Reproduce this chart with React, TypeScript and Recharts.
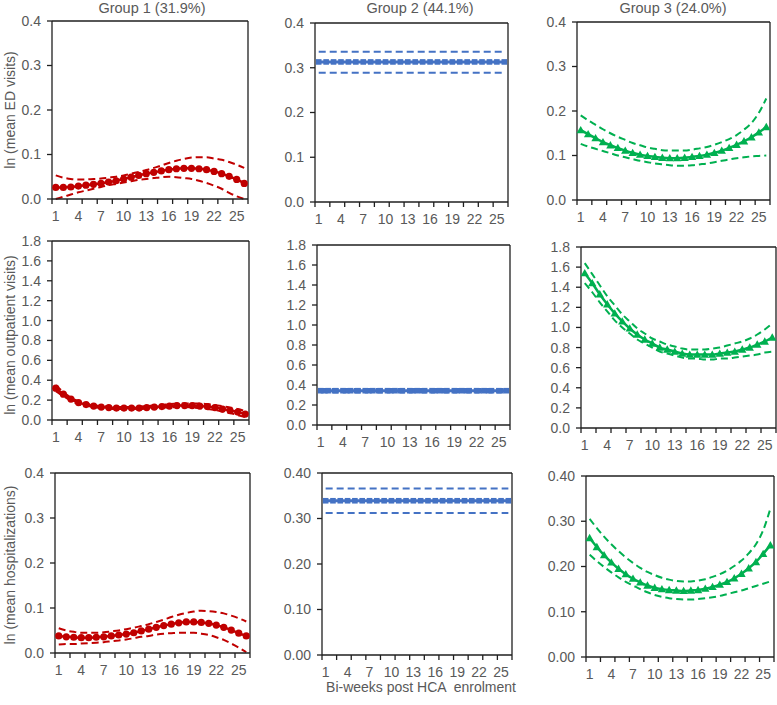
import React from "react";
import { LineChart, Line, XAxis, YAxis, ReferenceLine } from "recharts";

// ---------- categories & tick labels ----------
const WEEKS = [1, 2, 3, 4, 5, 6, 7, 8, 9, 10, 11, 12, 13, 14, 15, 16, 17, 18, 19, 20, 21, 22, 23, 24, 25, 26];
const X_LABEL_TICKS = [1, 4, 7, 10, 13, 16, 19, 22, 25];
const X_MARK_TICKS = [0.5, 2.5, 4.5, 6.5, 8.5, 10.5, 12.5, 14.5, 16.5, 18.5, 20.5, 22.5, 24.5, 26.5];
const GROUP_TITLES = ["Group 1 (31.9%)", "Group 2 (44.1%)", "Group 3 (24.0%)"];
const ROW_LABELS = ["ln (mean ED visits)", "ln (mean outpatient visits)", "ln (mean hospitalizations)"];
const X_TITLE = "Bi-weeks post HCA  enrolment";
const ED_TICKS = [0, 0.1, 0.2, 0.3, 0.4];
const OUT_TICKS = [0, 0.2, 0.4, 0.6, 0.8, 1.0, 1.2, 1.4, 1.6, 1.8];
const HOSP_TICKS = [0, 0.1, 0.2, 0.3, 0.4];

// ---------- ED visits ----------
const edG1Mean = [0.026, 0.026, 0.027, 0.029, 0.031, 0.033, 0.035, 0.038, 0.041, 0.045, 0.049, 0.053, 0.057, 0.060, 0.063, 0.066, 0.068, 0.069, 0.069, 0.068, 0.066, 0.062, 0.057, 0.051, 0.044, 0.035];
const edG1Upper = [0.053, 0.048, 0.045, 0.044, 0.044, 0.045, 0.046, 0.048, 0.050, 0.053, 0.057, 0.061, 0.065, 0.070, 0.075, 0.081, 0.086, 0.090, 0.093, 0.094, 0.094, 0.091, 0.088, 0.083, 0.077, 0.070];
const edG1Lower = [0.000, 0.005, 0.010, 0.015, 0.019, 0.023, 0.027, 0.031, 0.034, 0.037, 0.040, 0.043, 0.045, 0.047, 0.049, 0.050, 0.049, 0.047, 0.045, 0.041, 0.036, 0.030, 0.023, 0.014, 0.006, 0.000];
const edG2Mean = [0.313, 0.313, 0.313, 0.313, 0.313, 0.313, 0.313, 0.313, 0.313, 0.313, 0.313, 0.313, 0.313, 0.313, 0.313, 0.313, 0.313, 0.313, 0.313, 0.313, 0.313, 0.313, 0.313, 0.313, 0.313, 0.313];
const edG2Upper = [0.336, 0.336, 0.336, 0.336, 0.336, 0.336, 0.336, 0.336, 0.336, 0.336, 0.336, 0.336, 0.336, 0.336, 0.336, 0.336, 0.336, 0.336, 0.336, 0.336, 0.336, 0.336, 0.336, 0.336, 0.336, 0.336];
const edG2Lower = [0.289, 0.289, 0.289, 0.289, 0.289, 0.289, 0.289, 0.289, 0.289, 0.289, 0.289, 0.289, 0.289, 0.289, 0.289, 0.289, 0.289, 0.289, 0.289, 0.289, 0.289, 0.289, 0.289, 0.289, 0.289, 0.289];
const edG3Mean = [0.157, 0.148, 0.139, 0.130, 0.123, 0.117, 0.111, 0.106, 0.102, 0.099, 0.097, 0.095, 0.094, 0.094, 0.095, 0.097, 0.099, 0.102, 0.106, 0.111, 0.117, 0.124, 0.132, 0.141, 0.152, 0.164];
const edG3Upper = [0.190, 0.179, 0.169, 0.159, 0.150, 0.142, 0.135, 0.128, 0.123, 0.118, 0.115, 0.112, 0.111, 0.111, 0.111, 0.113, 0.116, 0.119, 0.124, 0.130, 0.137, 0.146, 0.158, 0.173, 0.196, 0.228];
const edG3Lower = [0.126, 0.120, 0.115, 0.110, 0.105, 0.100, 0.096, 0.092, 0.088, 0.085, 0.082, 0.080, 0.078, 0.077, 0.077, 0.078, 0.080, 0.082, 0.085, 0.088, 0.091, 0.094, 0.096, 0.098, 0.099, 0.100];

// ---------- outpatient visits ----------
const outG1Mean = [0.32, 0.26, 0.21, 0.175, 0.155, 0.14, 0.13, 0.125, 0.12, 0.12, 0.12, 0.12, 0.125, 0.13, 0.135, 0.14, 0.145, 0.145, 0.145, 0.14, 0.135, 0.125, 0.11, 0.095, 0.08, 0.06];
const outG1Upper = [0.35, 0.28, 0.225, 0.19, 0.165, 0.15, 0.14, 0.135, 0.13, 0.13, 0.13, 0.135, 0.14, 0.145, 0.15, 0.16, 0.165, 0.165, 0.165, 0.165, 0.16, 0.15, 0.14, 0.125, 0.11, 0.09];
const outG1Lower = [0.29, 0.24, 0.195, 0.16, 0.145, 0.13, 0.12, 0.115, 0.11, 0.11, 0.11, 0.11, 0.115, 0.12, 0.125, 0.125, 0.13, 0.13, 0.125, 0.12, 0.11, 0.10, 0.085, 0.07, 0.05, 0.03];
const outG2Mean = [0.343, 0.343, 0.343, 0.343, 0.343, 0.343, 0.343, 0.343, 0.343, 0.343, 0.343, 0.343, 0.343, 0.343, 0.343, 0.343, 0.343, 0.343, 0.343, 0.343, 0.343, 0.343, 0.343, 0.343, 0.343, 0.343];
const outG2Upper = [0.36, 0.36, 0.36, 0.36, 0.36, 0.36, 0.36, 0.36, 0.36, 0.36, 0.36, 0.36, 0.36, 0.36, 0.36, 0.36, 0.36, 0.36, 0.36, 0.36, 0.36, 0.36, 0.36, 0.36, 0.36, 0.36];
const outG2Lower = [0.326, 0.326, 0.326, 0.326, 0.326, 0.326, 0.326, 0.326, 0.326, 0.326, 0.326, 0.326, 0.326, 0.326, 0.326, 0.326, 0.326, 0.326, 0.326, 0.326, 0.326, 0.326, 0.326, 0.326, 0.326, 0.326];
const outG3Mean = [1.54, 1.44, 1.33, 1.23, 1.14, 1.06, 0.99, 0.93, 0.88, 0.84, 0.80, 0.78, 0.76, 0.74, 0.73, 0.73, 0.73, 0.73, 0.74, 0.75, 0.76, 0.78, 0.80, 0.83, 0.86, 0.90];
const outG3Upper = [1.64, 1.53, 1.42, 1.31, 1.22, 1.13, 1.06, 0.99, 0.94, 0.89, 0.86, 0.83, 0.81, 0.79, 0.78, 0.78, 0.78, 0.79, 0.80, 0.82, 0.84, 0.86, 0.89, 0.93, 0.98, 1.04];
const outG3Lower = [1.44, 1.35, 1.25, 1.16, 1.07, 1.00, 0.94, 0.88, 0.84, 0.80, 0.76, 0.74, 0.72, 0.70, 0.69, 0.69, 0.68, 0.68, 0.69, 0.69, 0.70, 0.71, 0.72, 0.73, 0.75, 0.76];

// ---------- hospitalizations ----------
const hospG1Mean = [0.038, 0.036, 0.035, 0.034, 0.034, 0.035, 0.036, 0.038, 0.040, 0.042, 0.045, 0.049, 0.053, 0.057, 0.061, 0.064, 0.067, 0.069, 0.069, 0.068, 0.066, 0.062, 0.057, 0.051, 0.044, 0.038];
const hospG1Upper = [0.055, 0.050, 0.047, 0.045, 0.045, 0.045, 0.046, 0.048, 0.050, 0.053, 0.056, 0.060, 0.064, 0.069, 0.074, 0.080, 0.085, 0.089, 0.092, 0.094, 0.093, 0.091, 0.088, 0.083, 0.077, 0.070];
const hospG1Lower = [0.019, 0.020, 0.020, 0.021, 0.022, 0.023, 0.024, 0.026, 0.028, 0.030, 0.033, 0.036, 0.038, 0.041, 0.043, 0.044, 0.045, 0.045, 0.045, 0.043, 0.040, 0.035, 0.029, 0.021, 0.012, 0.002];
const hospG2Mean = [0.339, 0.339, 0.339, 0.339, 0.339, 0.339, 0.339, 0.339, 0.339, 0.339, 0.339, 0.339, 0.339, 0.339, 0.339, 0.339, 0.339, 0.339, 0.339, 0.339, 0.339, 0.339, 0.339, 0.339, 0.339, 0.339];
const hospG2Upper = [0.366, 0.366, 0.366, 0.366, 0.366, 0.366, 0.366, 0.366, 0.366, 0.366, 0.366, 0.366, 0.366, 0.366, 0.366, 0.366, 0.366, 0.366, 0.366, 0.366, 0.366, 0.366, 0.366, 0.366, 0.366, 0.366];
const hospG2Lower = [0.312, 0.312, 0.312, 0.312, 0.312, 0.312, 0.312, 0.312, 0.312, 0.312, 0.312, 0.312, 0.312, 0.312, 0.312, 0.312, 0.312, 0.312, 0.312, 0.312, 0.312, 0.312, 0.312, 0.312, 0.312, 0.312];
const hospG3Mean = [0.263, 0.243, 0.225, 0.209, 0.195, 0.183, 0.173, 0.165, 0.158, 0.153, 0.150, 0.148, 0.147, 0.146, 0.147, 0.148, 0.151, 0.155, 0.160, 0.166, 0.174, 0.184, 0.196, 0.210, 0.228, 0.247];
const hospG3Upper = [0.305, 0.285, 0.266, 0.249, 0.234, 0.220, 0.208, 0.197, 0.188, 0.181, 0.175, 0.171, 0.168, 0.167, 0.167, 0.169, 0.172, 0.177, 0.183, 0.191, 0.201, 0.213, 0.229, 0.249, 0.280, 0.328];
const hospG3Lower = [0.226, 0.212, 0.199, 0.187, 0.176, 0.166, 0.158, 0.150, 0.143, 0.137, 0.133, 0.130, 0.128, 0.127, 0.127, 0.128, 0.130, 0.132, 0.135, 0.139, 0.143, 0.147, 0.152, 0.157, 0.162, 0.167];

// ---------- styles ----------
const FONT = "'Liberation Sans', Arial, sans-serif";
const TEXT_COLOR = "#595959";
const AXIS_COLOR = "#1f1f1f";
const RED = "#C00000";
const BLUE = "#4472C4";
const GREEN = "#00B050";
const Y_AXIS_W = 50;
const M_TOP = 12;
const M_RIGHT = 8;
const X_AXIS_H = 34;

type Marker = "circle" | "square" | "triangle";

const PANELS = [
  { mean: edG1Mean, upper: edG1Upper, lower: edG1Lower, color: RED, marker: "circle", ticks: ED_TICKS, dec: 1, box: [52, 21, 248, 199] },
  { mean: edG2Mean, upper: edG2Upper, lower: edG2Lower, color: BLUE, marker: "square", ticks: ED_TICKS, dec: 1, box: [315, 23, 508, 202] },
  { mean: edG3Mean, upper: edG3Upper, lower: edG3Lower, color: GREEN, marker: "triangle", ticks: ED_TICKS, dec: 1, box: [577, 22, 770, 200] },
  { mean: outG1Mean, upper: outG1Upper, lower: outG1Lower, color: RED, marker: "circle", ticks: OUT_TICKS, dec: 1, box: [52, 241, 249, 420] },
  { mean: outG2Mean, upper: outG2Upper, lower: outG2Lower, color: BLUE, marker: "square", ticks: OUT_TICKS, dec: 1, box: [317, 245, 510, 425] },
  { mean: outG3Mean, upper: outG3Upper, lower: outG3Lower, color: GREEN, marker: "triangle", ticks: OUT_TICKS, dec: 1, box: [581, 247, 776, 428] },
  { mean: hospG1Mean, upper: hospG1Upper, lower: hospG1Lower, color: RED, marker: "circle", ticks: HOSP_TICKS, dec: 1, box: [55, 473, 250, 653] },
  { mean: hospG2Mean, upper: hospG2Upper, lower: hospG2Lower, color: BLUE, marker: "square", ticks: HOSP_TICKS, dec: 2, box: [322, 473, 512, 655] },
  { mean: hospG3Mean, upper: hospG3Upper, lower: hospG3Lower, color: GREEN, marker: "triangle", ticks: HOSP_TICKS, dec: 2, box: [586, 476, 774, 657] },
];

const TITLE_X = [152, 420, 673];
const ROW_LABEL_Y = [110, 335, 565];

const ALL_X_TICKS = [...X_MARK_TICKS, ...X_LABEL_TICKS].sort((a, b) => a - b);

function XTick(props: any) {
  const { x, y, payload } = props;
  const v = payload.value;
  if (X_LABEL_TICKS.includes(v)) {
    return (
      <text x={x} y={y + 22} textAnchor="middle" fill={TEXT_COLOR} fontSize={14} fontFamily={FONT}>
        {v}
      </text>
    );
  }
  return <line x1={x} x2={x} y1={y} y2={y + 5} stroke={AXIS_COLOR} strokeWidth={1.3} />;
}

function makeDot(marker: Marker, color: string) {
  return (props: any) => {
    const { cx, cy, index } = props;
    if (cx == null || cy == null) return <g key={index} />;
    if (marker === "circle") return <circle key={index} cx={cx} cy={cy} r={3.6} fill={color} />;
    if (marker === "square") return <rect key={index} x={cx - 2.8} y={cy - 2.8} width={5.6} height={5.6} fill={color} />;
    const s = 4.2;
    return (
      <polygon
        key={index}
        points={`${cx},${cy - s} ${cx - s},${cy + s * 0.75} ${cx + s},${cy + s * 0.75}`}
        fill={color}
      />
    );
  };
}

function Panel({ p }: { p: any }) {
  const [l, t, r, b] = p.box;
  const w = Y_AXIS_W + (r - l) + M_RIGHT;
  const h = M_TOP + (b - t) + X_AXIS_H;
  const data = WEEKS.map((wk, i) => ({ x: wk, mean: p.mean[i], upper: p.upper[i], lower: p.lower[i] }));
  const yMax = p.ticks[p.ticks.length - 1];
  const mainWidth = p.marker === "square" ? 3 : 2.5;
  return (
    <div style={{ position: "absolute", left: l - Y_AXIS_W, top: t - M_TOP }}>
      <LineChart width={w} height={h} data={data} margin={{ top: M_TOP, right: M_RIGHT, bottom: 0, left: 0 }}>
        <XAxis
          dataKey="x"
          type="number"
          domain={[0.5, 26.5]}
          ticks={ALL_X_TICKS}
          interval={0}
          height={X_AXIS_H}
          tickSize={0}
          tickMargin={0}
          tickLine={false}
          tick={<XTick />}
          axisLine={{ stroke: AXIS_COLOR, strokeWidth: 1.3 }}
        />
        <YAxis
          type="number"
          domain={[0, yMax]}
          ticks={p.ticks}
          interval={0}
          width={Y_AXIS_W}
          tickSize={5}
          tickMargin={6}
          tickFormatter={(v: number) => v.toFixed(p.dec)}
          tick={{ fill: TEXT_COLOR, fontSize: 14, fontFamily: FONT }}
          tickLine={{ stroke: AXIS_COLOR, strokeWidth: 1.3 }}
          axisLine={{ stroke: AXIS_COLOR, strokeWidth: 1.3 }}
        />
        <ReferenceLine y={yMax} stroke={AXIS_COLOR} strokeWidth={1.3} />
        <ReferenceLine x={26.5} stroke={AXIS_COLOR} strokeWidth={1.3} />
        <Line type="monotone" dataKey="upper" stroke={p.color} strokeWidth={2} strokeDasharray="7 4" dot={false} isAnimationActive={false} />
        <Line type="monotone" dataKey="lower" stroke={p.color} strokeWidth={2} strokeDasharray="7 4" dot={false} isAnimationActive={false} />
        <Line
          type="monotone"
          dataKey="mean"
          stroke={p.color}
          strokeWidth={mainWidth}
          dot={makeDot(p.marker as Marker, p.color)}
          isAnimationActive={false}
        />
      </LineChart>
    </div>
  );
}

export default function App() {
  return (
    <div
      style={{
        position: "absolute",
        left: 0,
        top: 0,
        width: 777,
        height: 705,
        overflow: "hidden",
        background: "#fff",
        fontFamily: FONT,
      }}
    >
      {PANELS.map((p, i) => (
        <Panel key={i} p={p} />
      ))}
      <svg width={777} height={705} style={{ position: "absolute", left: 0, top: 0, pointerEvents: "none" }}>
        {GROUP_TITLES.map((g, i) => (
          <text key={g} x={TITLE_X[i]} y={12.5} textAnchor="middle" fill={TEXT_COLOR} fontSize={14.5} fontFamily={FONT}>
            {g}
          </text>
        ))}
        {ROW_LABELS.map((lab, i) => (
          <text
            key={lab}
            x={10}
            y={ROW_LABEL_Y[i]}
            transform={`rotate(-90 10 ${ROW_LABEL_Y[i]})`}
            textAnchor="middle"
            dominantBaseline="central"
            fill={TEXT_COLOR}
            fontSize={14}
            fontFamily={FONT}
          >
            {lab}
          </text>
        ))}
        <text x={421} y={692} textAnchor="middle" fill={TEXT_COLOR} fontSize={14} fontFamily={FONT} style={{ whiteSpace: "pre" }}>
          {X_TITLE}
        </text>
      </svg>
    </div>
  );
}
